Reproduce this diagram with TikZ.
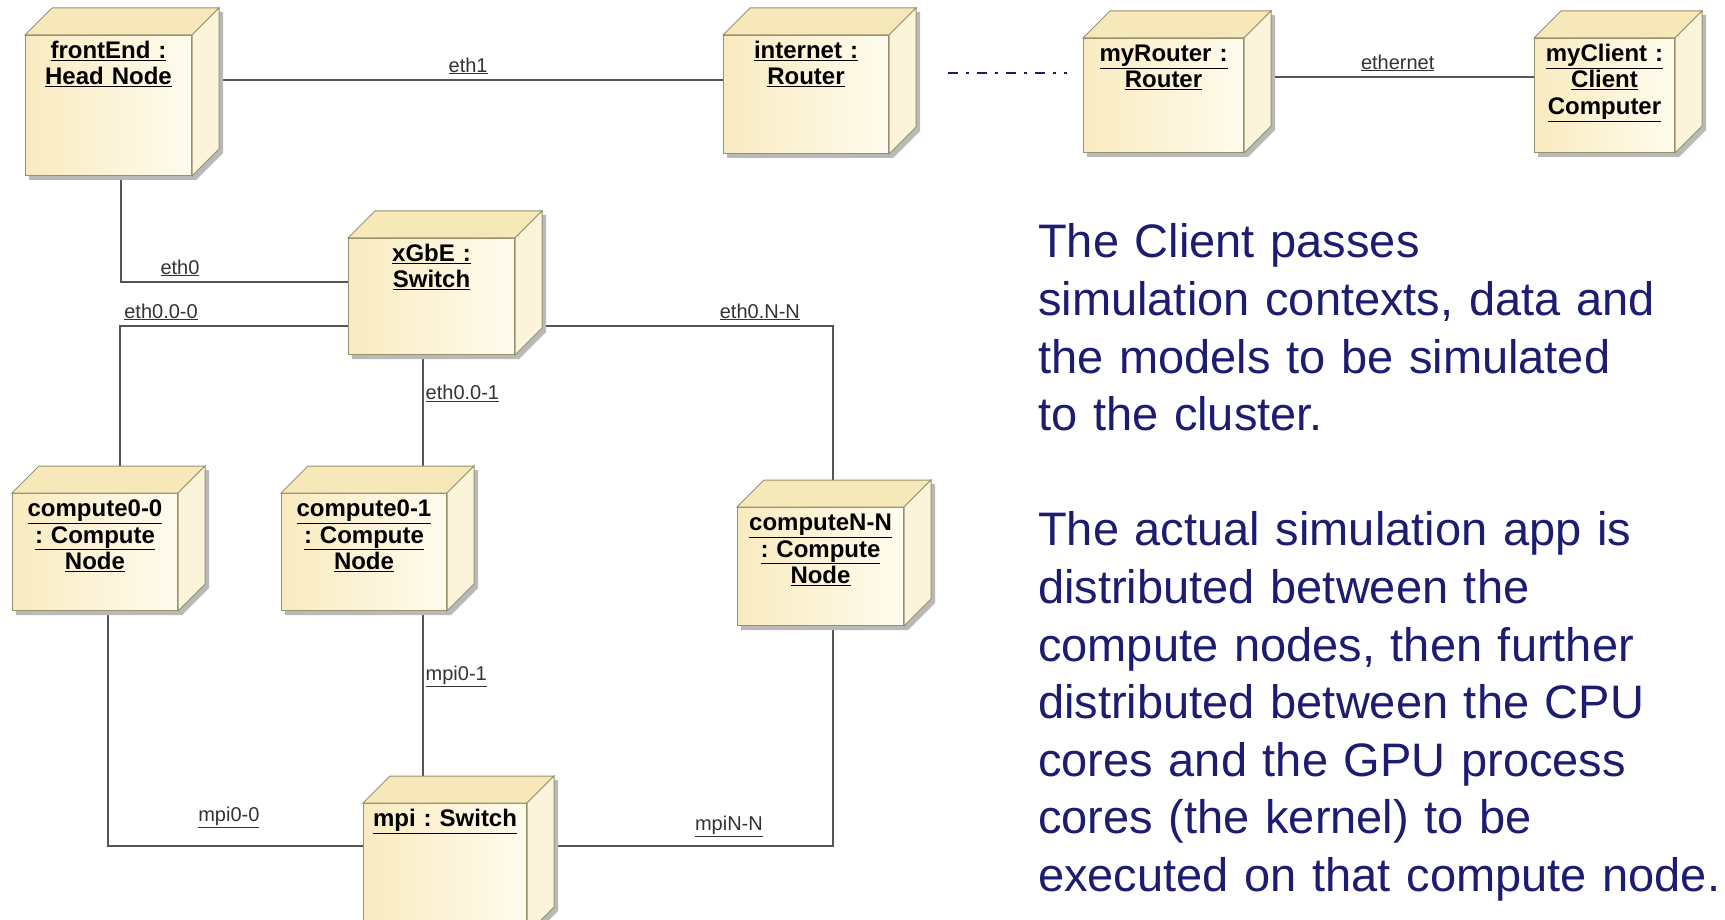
\documentclass[tikz,border=0pt]{standalone}
\usepackage{fontspec}
\setmainfont{Liberation Sans}
\usetikzlibrary{backgrounds}

\definecolor{boxedge}{RGB}{150,146,110}
\definecolor{boxfrontL}{RGB}{249,235,192}
\definecolor{boxfrontR}{RGB}{255,252,238}
\definecolor{boxtop}{RGB}{247,232,186}
\definecolor{boxside}{RGB}{252,244,218}
\definecolor{boxshadow}{RGB}{185,185,185}
\definecolor{linkgray}{RGB}{85,85,85}
\definecolor{notecolor}{RGB}{28,28,112}

\tikzset{
  device/.style 2 args={anchor=north west, draw=boxedge, line width=1pt,
    left color=boxfrontL, right color=boxfrontR, inner sep=0pt,
    text width=#1pt, text height=23pt, text depth={#2pt-23pt}, align=center,
    font=\bfseries\fontsize{24}{26.5}\selectfont},
  topface/.style={draw=boxedge, line width=1pt, fill=boxtop},
  sideface/.style={draw=boxedge, line width=1pt, fill=boxside},
  link/.style={draw=linkgray, line width=1.4pt},
  linklabel/.style={font=\fontsize{20}{22}\selectfont, text=black!80, inner sep=2pt},
  note/.style={text=notecolor, font=\fontsize{47}{57.6}\selectfont,
    text width=690pt, align=left, inner sep=0pt}
}

\begin{document}
\frenchspacing
\begin{tikzpicture}[x=1pt, y=-1pt]
\useasboundingbox (0,0) rectangle (1725,920);

% devices
\node[device={166}{140}] (frontEnd) at (25,35) {\underline{frontEnd :}\\\underline{Head Node}};
\node[device={165}{118}] (internet) at (723,35) {\underline{internet :}\\\underline{Router}};
\node[device={160}{114}] (myRouter) at (1083,38) {\underline{myRouter :}\\\underline{Router}};
\node[device={140}{114}] (myClient) at (1534,38) {\underline{myClient :}\\\underline{Client}\\\underline{Computer}};
\node[device={166}{116}] (xGbE) at (348,238) {\underline{xGbE :}\\\underline{Switch}};
\node[device={165}{117}] (comp00) at (12,493) {\underline{compute0-0}\\\underline{: Compute}\\\underline{Node}};
\node[device={165}{117}] (comp01) at (281,493) {\underline{compute0-1}\\\underline{: Compute}\\\underline{Node}};
\node[device={166}{118}] (compNN) at (737,507) {\underline{computeN-N}\\\underline{: Compute}\\\underline{Node}};
\node[device={163}{130}] (mpi) at (363,803) {\underline{mpi : Switch}};

\coordinate (dashL) at (948,73);
\coordinate (dashR) at (1067,73);

% text
\node[note, anchor=base west] (notes) at (1038,258) {The Client passes\\
  simulation contexts, data and\\
  the models to be simulated\\
  to the cluster.\\[57.6pt]
  The actual simulation app is\\
  distributed between the\\
  compute nodes, then further\\
  distributed between the CPU\\
  cores and the GPU process\\
  cores (the kernel) to be\\
  executed on that compute node.};

\begin{pgfonlayer}{background}
  \fill[white] (0,0) rectangle (1725,920);
  \draw[link] ([yshift=-45pt]frontEnd.north east) -- node[linklabel, above=3pt, pos=0.52] (lEth1) {\underline{eth1}} ([yshift=-45pt]internet.north west);
  \draw[link] ([xshift=96pt]frontEnd.south west) |- node[linklabel, above=3pt, pos=0.63] (lEth0) {\underline{eth0}} ([yshift=-44pt]xGbE.north west);
  \draw[link] ([yshift=-88pt]xGbE.north west) -| node[linklabel, above=3pt, pos=0.41] (lEth00) {\underline{eth0.0-0}} ([xshift=108pt]comp00.north west);
  \draw[link] ([xshift=75pt]xGbE.south west) -- node[linklabel, right, pos=0.28] (lEth01) {\underline{eth0.0-1}} ([xshift=142pt]comp01.north west);
  \draw[link] ([yshift=-88pt]xGbE.north east) -| node[linklabel, above=3pt, pos=0.385] (lEthNN) {\underline{eth0.N-N}} ([xshift=96pt]compNN.north west);
  \draw[link] ([xshift=96pt]comp00.south west) |- node[linklabel, above=16pt, pos=0.737] (lMpi00) {\underline{mpi0-0}} ([yshift=-43pt]mpi.north west);
  \draw[link] ([xshift=142pt]comp01.south west) -- node[linklabel, right, pos=0.34] (lMpi01) {\underline{mpi0-1}} ([xshift=60pt]mpi.north west);
  \draw[link] ([xshift=96pt]compNN.south west) |- node[linklabel, above=7pt, pos=0.67] (lMpiNN) {\underline{mpiN-N}} ([yshift=-43pt]mpi.north east);
  \draw[link] ([yshift=-39pt]myRouter.north east) -- node[linklabel, above=3pt, pos=0.53] (lEthernet) {\underline{ethernet}} ([yshift=-39pt]myClient.north west);
  \draw[notecolor, line width=2pt, dash pattern=on 10pt off 8pt on 3pt off 8pt] (dashL) -- (dashR);
\end{pgfonlayer}

% 3d faces
\foreach \n in {frontEnd,internet,myRouter,myClient,xGbE,comp00,comp01,compNN,mpi}{
  \begin{pgfonlayer}{background}
    \fill[boxshadow] ([shift={(4,4)}]\n.south west) -- ([shift={(4,4)}]\n.south east) -- ([shift={(31,-23)}]\n.south east)
      -- ([shift={(31,-23)}]\n.north east) -- ([shift={(31,-23)}]\n.north west) -- ([shift={(4,4)}]\n.north west) -- cycle;
  \end{pgfonlayer}
  \filldraw[topface] (\n.north west) -- ++(27,-27) -- ([shift={(27,-27)}]\n.north east) -- (\n.north east) -- cycle;
  \filldraw[sideface] (\n.north east) -- ([shift={(27,-27)}]\n.north east) -- ([shift={(27,-27)}]\n.south east) -- (\n.south east) -- cycle;
}
\end{tikzpicture}
\end{document}
